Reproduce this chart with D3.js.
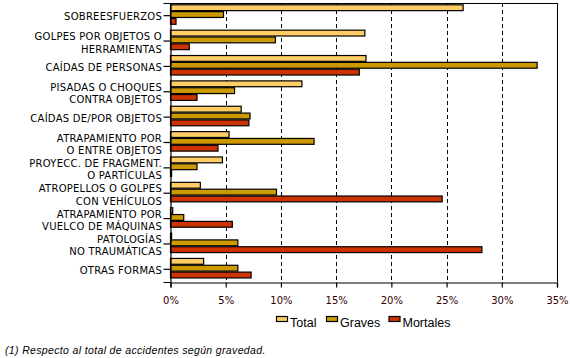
<!DOCTYPE html>
<html>
<head>
<meta charset="utf-8">
<script src="https://cdn.jsdelivr.net/npm/d3@7"></script>
<style>
  html, body { margin: 0; padding: 0; background: #ffffff; }
  svg { display: block; }
</style>
</head>
<body>
<svg id="chart" width="570" height="358"></svg>
<script>
// ---- data ----
const categories = [
  "SOBREESFUERZOS",
  "GOLPES POR OBJETOS O|HERRAMIENTAS",
  "CAÍDAS DE PERSONAS",
  "PISADAS O CHOQUES|CONTRA OBJETOS",
  "CAÍDAS DE/POR OBJETOS",
  "ATRAPAMIENTO POR|O ENTRE OBJETOS",
  "PROYECC. DE FRAGMENT.|O PARTÍCULAS",
  "ATROPELLOS O GOLPES|CON VEHÍCULOS",
  "ATRAPAMIENTO POR|VUELCO DE MÁQUINAS",
  "PATOLOGÍAS|NO TRAUMÁTICAS",
  "OTRAS FORMAS"
];
const seriesNames = ["Total", "Graves", "Mortales"];
const totalValues    = [26.5, 17.6, 17.7, 11.9, 6.4, 5.3, 4.7, 2.7, 0.2, 0.1, 3.0];
const gravesValues   = [4.8, 9.5, 33.2, 5.8, 7.2, 13.0, 2.4, 9.6, 1.2, 6.1, 6.1];
const mortalesValues = [0.5, 1.7, 17.1, 2.4, 7.1, 4.3, 0.1, 24.6, 5.6, 28.2, 7.3];
const seriesColors = ["#FFCC66", "#CC9900", "#CC3300"];
const xTicks = [0, 5, 10, 15, 20, 25, 30, 35];
const footnote = "(1) Respecto al total de accidentes según gravedad.";

const seriesValues = [totalValues, gravesValues, mortalesValues];

// ---- layout ----
const svg = d3.select("#chart");
const pLeft = 170.5, pRight = 557, pTop = 3, pBottom = 282;

const x = d3.scaleLinear().domain([0, 35]).range([pLeft, pRight]);
const y = d3.scaleBand().domain(categories).range([pTop, pBottom]).padding(0);
const yInner = d3.scaleBand().domain(seriesNames).range([1.3, 21.8]).padding(0);

// grid lines (dashed)
svg.append("g")
  .selectAll("line")
  .data(xTicks.filter(t => t > 0 && t < 35))
  .join("line")
  .attr("x1", d => Math.round(x(d)) + 0.5)
  .attr("x2", d => Math.round(x(d)) + 0.5)
  .attr("y1", pTop)
  .attr("y2", pBottom)
  .attr("stroke", "#000")
  .attr("stroke-width", 1)
  .attr("stroke-dasharray", "4,3");

// frame: top and right
svg.append("line")
  .attr("x1", pLeft).attr("x2", pRight + 0.5)
  .attr("y1", pTop + 0.5).attr("y2", pTop + 0.5)
  .attr("stroke", "#000").attr("stroke-width", 1);
svg.append("line")
  .attr("x1", pRight + 0.5).attr("x2", pRight + 0.5)
  .attr("y1", pTop).attr("y2", pBottom)
  .attr("stroke", "#000").attr("stroke-width", 1);

// bars
const groups = svg.append("g")
  .selectAll("g")
  .data(categories)
  .join("g")
  .attr("transform", d => `translate(0,${y(d)})`);

groups.selectAll("rect")
  .data((c, i) => seriesNames.map((s, j) => ({ s, j, v: seriesValues[j][i] })))
  .join("rect")
  .attr("x", x(0))
  .attr("y", d => yInner(d.s) + 0.5)
  .attr("width", d => Math.max(0, x(d.v) - x(0)))
  .attr("height", yInner.bandwidth() - 1)
  .attr("fill", d => seriesColors[d.j])
  .attr("stroke", "#000")
  .attr("stroke-width", 1.2);

// x axis
const xAxis = d3.axisBottom(x)
  .tickValues(xTicks)
  .tickSize(5)
  .tickPadding(9)
  .tickFormat(d => d + "%");
const gx = svg.append("g")
  .attr("transform", `translate(0,${pBottom + 0.5})`)
  .call(xAxis);
gx.select(".domain").attr("stroke", "#000").attr("stroke-width", 1.2);
gx.selectAll(".tick line").attr("stroke", "#000").attr("stroke-width", 1.2);
gx.selectAll(".tick text")
  .attr("fill", "#330000")
  .attr("font-family", "DejaVu Sans, sans-serif")
  .attr("font-size", 10);

// y axis with multi-line labels
const yAxis = d3.axisLeft(y).tickSize(7).tickFormat("");
const gy = svg.append("g")
  .attr("transform", `translate(${pLeft},0)`)
  .call(yAxis);
gy.select(".domain").attr("stroke", "#000").attr("stroke-width", 1.2);
gy.selectAll(".tick line").attr("stroke", "#000").attr("stroke-width", 1.2);

const labels = svg.append("g")
  .attr("font-family", "DejaVu Sans, sans-serif")
  .attr("font-size", 10)
  .attr("letter-spacing", 0.25)
  .attr("fill", "#000")
  .attr("text-anchor", "end");

categories.forEach(c => {
  const cy = y(c) + y.bandwidth() / 2;
  const lines = c.split("|");
  const t = labels.append("text");
  if (lines.length === 1) {
    t.append("tspan").attr("x", 162).attr("y", cy + 4.5).text(lines[0]);
  } else {
    t.append("tspan").attr("x", 162).attr("y", cy - 1).text(lines[0]);
    t.append("tspan").attr("x", 162).attr("y", cy + 11.5).text(lines[1]);
  }
});

// legend
const legendX = [276, 326, 388.5];
const legend = svg.append("g");
seriesNames.forEach((s, i) => {
  legend.append("rect")
    .attr("x", legendX[i] + 0.5)
    .attr("y", 316.5)
    .attr("width", 11)
    .attr("height", 5)
    .attr("fill", seriesColors[i])
    .attr("stroke", "#000")
    .attr("stroke-width", 1.2);
  legend.append("text")
    .attr("x", legendX[i] + 14)
    .attr("y", 326.7)
    .attr("font-family", "Liberation Sans, Arial, sans-serif")
    .attr("font-size", 12.5)
    .attr("fill", "#000")
    .text(s);
});

// footnote
svg.append("text")
  .attr("x", 5)
  .attr("y", 354)
  .attr("font-family", "Liberation Sans, Arial, sans-serif")
  .attr("font-style", "italic")
  .attr("font-size", 10.5)
  .attr("letter-spacing", 0.35)
  .attr("fill", "#000")
  .text(footnote);
</script>
</body>
</html>
